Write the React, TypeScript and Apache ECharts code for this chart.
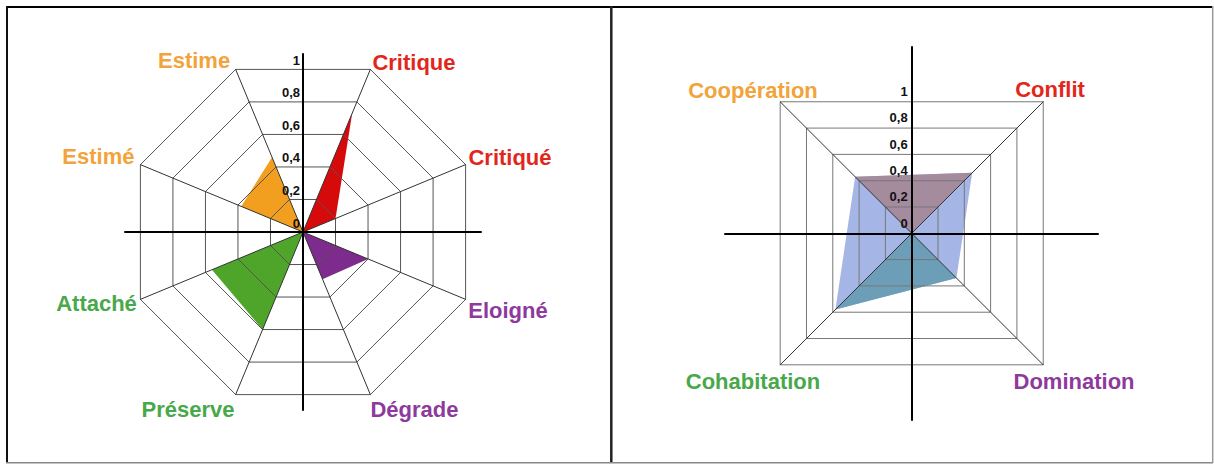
import React, { useEffect, useRef } from "react";
import * as echarts from "echarts";

// ---------- data ----------
const leftIndicators = ["Critique", "Estime", "Estimé", "Attaché", "Préserve", "Dégrade", "Eloigné", "Critiqué"];
const orangeValues = [0, 0.46, 0.38, 0, 0, 0, 0, 0];
const redValues = [0.73, 0, 0, 0, 0, 0, 0, 0.2];
const greenValues = [0, 0, 0, 0.56, 0.6, 0, 0, 0];
const purpleValues = [0, 0, 0, 0, 0, 0.29, 0.4, 0];

const rightIndicators = ["Conflit", "Coopération", "Cohabitation", "Domination"];
const blueValues = [0.46, 0.43, 0.58, 0.34];
const mauveValues = [0.46, 0.43, 0, 0];
const tealValues = [0, 0, 0.58, 0.34];

const tickLabels = ["0", "0,2", "0,4", "0,6", "0,8", "1"];

// ---------- styles ----------
const ORANGE_T = "#f2a33a";
const RED_T = "#e3261b";
const GREEN_T = "#48a84a";
const PURPLE_T = "#8e3a9d";
const leftNameColors = [RED_T, ORANGE_T, ORANGE_T, GREEN_T, GREEN_T, PURPLE_T, PURPLE_T, RED_T];
const rightNameColors = [RED_T, ORANGE_T, GREEN_T, PURPLE_T];
const leftNameShift = [
  [43.6, -6.7], [-41.6, -9.4], [-42, -7.9], [-43.9, 4.6],
  [-47.6, 15.4], [44.1, 15.4], [42.4, 11.6], [44.4, -7.6],
];
const rightNameShift = [[6.8, -11.8], [-27.2, -11.1], [-27.2, 16.2], [30.8, 16.2]];

const FONT = "'Liberation Sans', Arial, Helvetica, sans-serif";

function pad(s: number[]) {
  const [sx, sy] = s;
  return [sy > 0 ? 2 * sy : 0, sx < 0 ? -2 * sx : 0, sy < 0 ? -2 * sy : 0, sx > 0 ? 2 * sx : 0];
}

function indicators(names: string[], colors: string[], shifts: number[][]) {
  return names.map((n, i) => ({
    name: n,
    min: 0,
    max: 1,
    color: colors[i],
    nameTextStyle: {
      align: "center",
      verticalAlign: "middle",
      padding: pad(shifts[i]),
      color: colors[i],
      rich: { n: {} },
    },
  }));
}

function radarBase(center: number[], radius: number, startAngle: number, ind: any[], splitColor: string) {
  return {
    center,
    radius,
    startAngle,
    splitNumber: 5,
    shape: "polygon",
    z: 3,
    silent: true,
    axisNameGap: 0,
    axisName: { color: "#000", fontSize: 22, fontWeight: "bold", fontFamily: FONT },
    splitLine: { lineStyle: { color: splitColor, width: 1 } },
    splitArea: { show: false },
    axisLine: { lineStyle: { color: "#333", width: 1 } },
    axisLabel: { show: false },
    axisTick: { show: false },
    indicator: ind,
  };
}

function area(radarIndex: number, values: number[], color: string, z = 1) {
  return {
    type: "radar",
    radarIndex,
    z,
    silent: true,
    symbol: "none",
    lineStyle: { opacity: 0, width: 0 },
    areaStyle: { color, opacity: 1 },
    data: [{ value: values }],
  };
}

const crossAxis = (gridIndex: number) => ({
  type: "value",
  gridIndex,
  min: -1,
  max: 1,
  z: 10,
  axisLine: { show: true, onZero: true, lineStyle: { color: "#000", width: 2 } },
  axisTick: { show: false },
  axisLabel: { show: false },
  splitLine: { show: false },
});

const tickAxis = (gridIndex: number, margin: number) => ({
  type: "value",
  gridIndex,
  min: 0,
  max: 1,
  interval: 0.2,
  z: 11,
  axisLine: { show: false },
  axisTick: { show: false },
  splitLine: { show: false },
  axisLabel: {
    margin,
    color: "#111",
    fontSize: 13,
    fontWeight: "bold",
    fontFamily: FONT,
    formatter: (v: number) => tickLabels[Math.round(v * 5)],
  },
});

const hiddenX = (gridIndex: number) => ({ type: "value", gridIndex, show: false, min: 0, max: 1 });

export default function App() {
  const ref = useRef<HTMLDivElement>(null);
  useEffect(() => {
    if (!ref.current) return;
    const chart = echarts.init(ref.current, null, { renderer: "svg" });
    const option: any = {
      animation: false,
      backgroundColor: "#fff",
      grid: [
        { left: 125, top: 54, width: 356, height: 356 },
        { left: 725, top: 47, width: 373, height: 373 },
        { left: 303, top: 60, width: 1, height: 163 },
        { left: 911.7, top: 91.3, width: 1, height: 132 },
      ],
      xAxis: [crossAxis(0), crossAxis(1), hiddenX(2), hiddenX(3)],
      yAxis: [crossAxis(0), crossAxis(1), tickAxis(2, 3), tickAxis(3, 4)],
      radar: [
        radarBase([303, 232], 176, 67.5, indicators(leftIndicators, leftNameColors, leftNameShift), "#555"),
        radarBase([911.7, 233.3], 186, 45, indicators(rightIndicators, rightNameColors, rightNameShift), "#777"),
      ],
      series: [
        area(0, orangeValues, "#f29f1f"),
        area(0, redValues, "#d60a0a"),
        area(0, greenValues, "#4fa52a"),
        area(0, purpleValues, "#7d2b8c"),
        area(1, blueValues, "#a5b6e6", 1),
        area(1, mauveValues, "#a58b9e", 2),
        area(1, tealValues, "#6c9fb7", 2),
      ],
      graphic: [
        { type: "line", shape: { x1: 6, y1: 7, x2: 1213, y2: 7 }, style: { stroke: "#000", lineWidth: 2 }, z: 100 },
        { type: "line", shape: { x1: 7, y1: 6, x2: 7, y2: 463 }, style: { stroke: "#111", lineWidth: 2 }, z: 100 },
        { type: "line", shape: { x1: 611.3, y1: 6, x2: 611.3, y2: 463 }, style: { stroke: "#222", lineWidth: 2.5 }, z: 100 },
        { type: "line", shape: { x1: 6, y1: 462.7, x2: 1213, y2: 462.7 }, style: { stroke: "#888", lineWidth: 1.5 }, z: 100 },
        { type: "line", shape: { x1: 1212.7, y1: 6, x2: 1212.7, y2: 463 }, style: { stroke: "#999", lineWidth: 1.5 }, z: 100 },
      ],
    };
    chart.setOption(option);
    return () => chart.dispose();
  }, []);
  return (
    <div
      ref={ref}
      style={{ position: "absolute", left: 0, top: 0, width: 1214, height: 464, background: "#fff" }}
    />
  );
}
